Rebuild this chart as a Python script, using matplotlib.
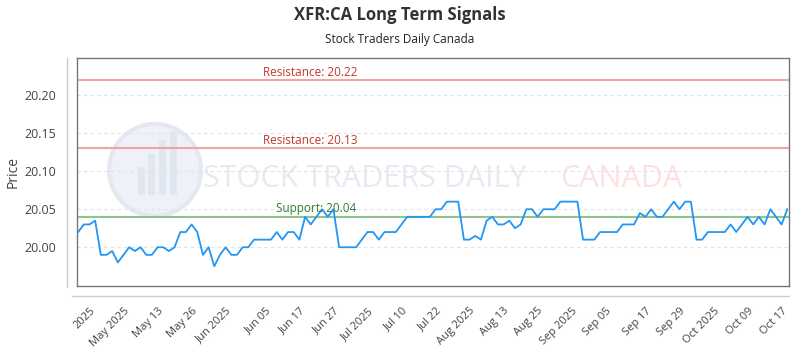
import numpy as np
import matplotlib
matplotlib.use("Agg")
import matplotlib.pyplot as plt
import matplotlib.transforms as mtransforms
from matplotlib.patches import Ellipse, Rectangle
from matplotlib.lines import Line2D

plt.rcParams['font.family'] = ['Open Sans', 'DejaVu Sans']

# daily closes
prices = [20.02, 20.03, 20.03, 20.035, 19.99, 19.99, 19.995, 19.98, 19.99, 20.00,
          19.995, 20.00, 19.99, 19.99, 20.00, 20.00, 19.995, 20.00, 20.02, 20.02,
          20.03, 20.02, 19.99, 20.00, 19.975, 19.99, 20.00, 19.99, 19.99, 20.00,
          20.00, 20.01, 20.01, 20.01, 20.01, 20.02, 20.01, 20.02, 20.02, 20.01,
          20.04, 20.03, 20.04, 20.05, 20.04, 20.05, 20.00, 20.00, 20.00, 20.00,
          20.01, 20.02, 20.02, 20.01, 20.02, 20.02, 20.02, 20.03, 20.04, 20.04,
          20.04, 20.04, 20.04, 20.05, 20.05, 20.06, 20.06, 20.06, 20.01, 20.01,
          20.015, 20.01, 20.035, 20.04, 20.03, 20.03, 20.035, 20.025, 20.03, 20.05,
          20.05, 20.04, 20.05, 20.05, 20.05, 20.06, 20.06, 20.06, 20.06, 20.01,
          20.01, 20.01, 20.02, 20.02, 20.02, 20.02, 20.03, 20.03, 20.03, 20.045,
          20.04, 20.05, 20.04, 20.04, 20.05, 20.06, 20.05, 20.06, 20.06, 20.01,
          20.01, 20.02, 20.02, 20.02, 20.02, 20.03, 20.02, 20.03, 20.04, 20.03,
          20.04, 20.03, 20.05, 20.04, 20.03, 20.05]

tick_labels = ["2025", "May 2025", "May 13", "May 26", "Jun 2025", "Jun 05", "Jun 17",
               "Jun 27", "Jul 2025", "Jul 10", "Jul 22", "Aug 2025", "Aug 13", "Aug 25",
               "Sep 2025", "Sep 05", "Sep 17", "Sep 29", "Oct 2025", "Oct 09", "Oct 17"]

resistance = [20.22, 20.13]
support = [20.04]
y_ticks = [20.00, 20.05, 20.10, 20.15, 20.20]

x = np.arange(len(prices))

fig = plt.figure(figsize=(8, 3.5), dpi=100)
ax = fig.add_axes([77/800, 1-286/350, 712/800, 228/350])

# watermark
ax.add_patch(Ellipse((0.1096, 0.509), 92/712, 92/228, transform=ax.transAxes,
                     facecolor="#eef1f7", edgecolor="#e3e8f1", lw=3, zorder=0))
for bx, bh in [(0.085, 0.12), (0.100, 0.18), (0.115, 0.24), (0.130, 0.28)]:
    ax.add_patch(Rectangle((bx, 0.40), 0.010, bh, transform=ax.transAxes,
                           facecolor="#e1e7f0", edgecolor="none", zorder=0))
ax.text(0.4045, 0.47, "STOCK TRADERS DAILY", transform=ax.transAxes, ha="center", va="center",
        fontsize=22, color="#e6eaf2", zorder=0)
ax.text(0.764, 0.47, "CANADA", transform=ax.transAxes, ha="center", va="center",
        fontsize=22, color="#fde1e1", zorder=0)

for r in resistance:
    ax.axhline(r, color="#f4a3a3", lw=1.5, zorder=2)
    ax.text(41, r + 0.002, f"Resistance: {r:.2f}", ha="center", va="bottom",
            fontsize=8.5, color="#c0392b", zorder=4)
for s in support:
    ax.axhline(s, color="#8cc68c", lw=1.5, zorder=2)
    ax.text(42, s + 0.002, f"Support: {s:.2f}", ha="center", va="bottom",
            fontsize=8.5, color="#2e7d32", zorder=4)

ax.plot(x, prices, color="#2196f3", lw=1.3, zorder=3)

ax.set_xlim(-0.2, len(prices) - 0.7)
ax.set_ylim(19.949, 20.249)
ax.set_yticks(y_ticks)
ax.set_yticklabels([f"{v:.2f}" for v in y_ticks])
ax.grid(axis="y", color="#e2e2e2", linestyle=(0, (3, 3)), lw=0.8)
ax.tick_params(axis="y", length=0, pad=15, labelsize=9, labelcolor="#444444")
ax.set_ylabel("Price", fontsize=10, color="#444444", labelpad=3)

tick_pos = np.round(np.linspace(3, len(prices) - 1, len(tick_labels))).astype(int)
ax.set_xticks(tick_pos)
ax.set_xticklabels(tick_labels, rotation=45, ha="right", rotation_mode="anchor")
ax.tick_params(axis="x", length=0, pad=14, labelsize=8, labelcolor="#444444")
shift = mtransforms.ScaledTranslation(-4/72, 0, fig.dpi_scale_trans)
for lbl in ax.get_xticklabels():
    lbl.set_transform(lbl.get_transform() + shift)

for sp in ax.spines.values():
    sp.set_color("#777777")
    sp.set_linewidth(1)

# outer axis lines
fig.add_artist(Line2D([67/800, 67/800], [1-58/350, 1-287/350], color="#cccccc", lw=1))
fig.add_artist(Line2D([72/800, 789/800], [1-296/350, 1-296/350], color="#cccccc", lw=1))

fig.text(0.5, 1-15/350, "XFR:CA Long Term Signals", ha="center", va="center",
         fontsize=12, fontweight="bold", color="#333333")
fig.text(0.5, 1-40/350, "Stock Traders Daily Canada", ha="center", va="center",
         fontsize=8.5, color="#222222")

fig.savefig("out.png", dpi=100)
